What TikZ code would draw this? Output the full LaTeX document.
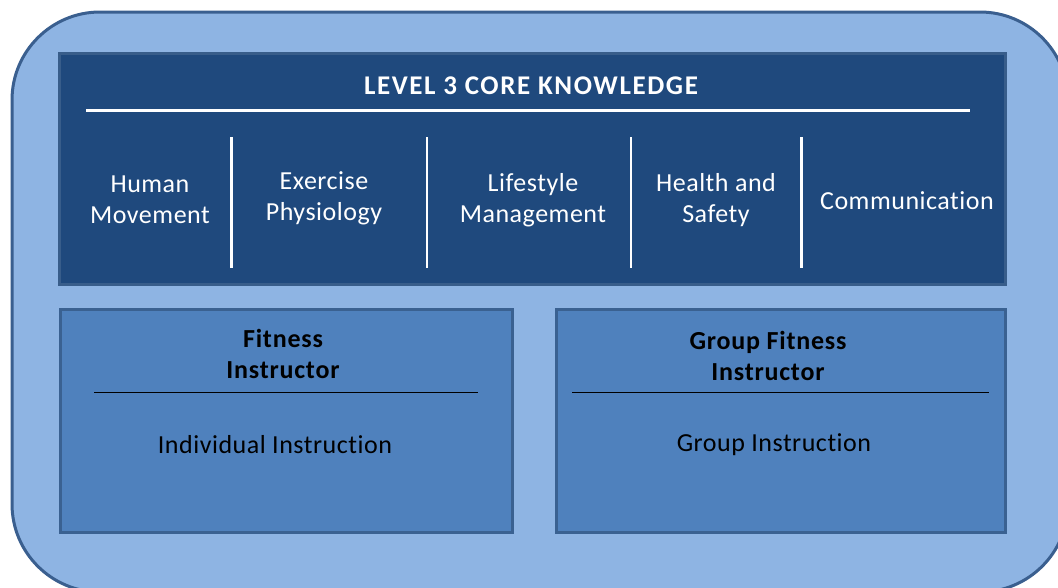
\documentclass[tikz,border=0pt]{standalone}
\usepackage{fontspec}
\setmainfont{Carlito}[Ligatures=NoCommon]
\newfontfamily\bodyfont[LetterSpace=2,Ligatures=NoCommon]{Carlito}
\newfontfamily\headfont[LetterSpace=3,Ligatures=NoCommon]{Carlito}
\newfontfamily\titlefont[LetterSpace=6,Ligatures=NoCommon]{Carlito}
\definecolor{outerfill}{HTML}{8EB4E3}
\definecolor{outerline}{HTML}{3A5F8F}
\definecolor{darkfill}{HTML}{1F497D}
\definecolor{darkline}{HTML}{385D8A}
\definecolor{midfill}{HTML}{4F81BD}
\definecolor{midline}{HTML}{3A6191}
\tikzset{
  topic/.style={text=white, font=\bodyfont\fontsize{26}{31}\selectfont, align=center},
  rolehead/.style={text=black, font=\headfont\fontsize{26}{31}\selectfont\bfseries, align=center},
  rolebody/.style={text=black, font=\bodyfont\fontsize{26}{31}\selectfont, align=center},
  septhick/.style={white, line width=3pt},
  septhin/.style={white, line width=1.5pt},
}
\begin{document}
\begin{tikzpicture}[x=1pt,y=-1pt]
\useasboundingbox (0,0) rectangle (1058,587);
\fill[white] (0,0) rectangle (1058,587);
% outer rounded panel (cropped at right and bottom)
\draw[outerline, fill=outerfill, line width=3pt, rounded corners=88pt] (12,12) rectangle (1068,592);
% core knowledge box
\draw[darkline, fill=darkfill, line width=3pt] (59,53) rectangle (1005,284);
\node[text=white, font=\titlefont\fontsize{27}{31}\selectfont\bfseries] (title) at (531,86) {LEVEL 3 CORE KNOWLEDGE};
\coordinate (tl) at (86,110);
\coordinate (tr) at (970,110);
\draw[white, line width=3pt] (tl) -- (tr);
\coordinate (s1a) at (231,137); \coordinate (s1b) at (231,268);
\coordinate (s2a) at (427,137); \coordinate (s2b) at (427,268);
\coordinate (s3a) at (631,137); \coordinate (s3b) at (631,268);
\coordinate (s4a) at (801,137); \coordinate (s4b) at (801,268);
\draw[septhick] (s1a) -- (s1b);
\draw[septhin] (s2a) -- (s2b);
\draw[septhin] (s3a) -- (s3b);
\draw[septhick] (s4a) -- (s4b);
\node[topic] (hm) at (150,200) {Human\\Movement};
\node[topic] (ep) at (324,198) {Exercise\\Physiology};
\node[topic] (lm) at (533,200) {Lifestyle\\Management};
\node[topic] (hs) at (716,200) {Health and\\Safety};
\node[topic] (cm) at (907,201) {Communication};
% role boxes
\draw[midline, fill=midfill, line width=3pt] (60,309) rectangle (512,532);
\draw[midline, fill=midfill, line width=3pt] (556,309) rectangle (1005,532);
\node[rolehead] (fi) at (283,354) {Fitness\\Instructor};
\coordinate (l1a) at (94,392); \coordinate (l1b) at (478,392);
\draw[black, line width=0.8pt] (l1a) -- (l1b);
\node[rolebody] (ii) at (275,445) {Individual Instruction};
\node[rolehead] (gf) at (768,356) {Group Fitness\\Instructor};
\coordinate (l2a) at (572,392); \coordinate (l2b) at (989,392);
\draw[black, line width=0.8pt] (l2a) -- (l2b);
\node[rolebody] (gi) at (774,445) {Group Instruction};
\end{tikzpicture}
\end{document}
